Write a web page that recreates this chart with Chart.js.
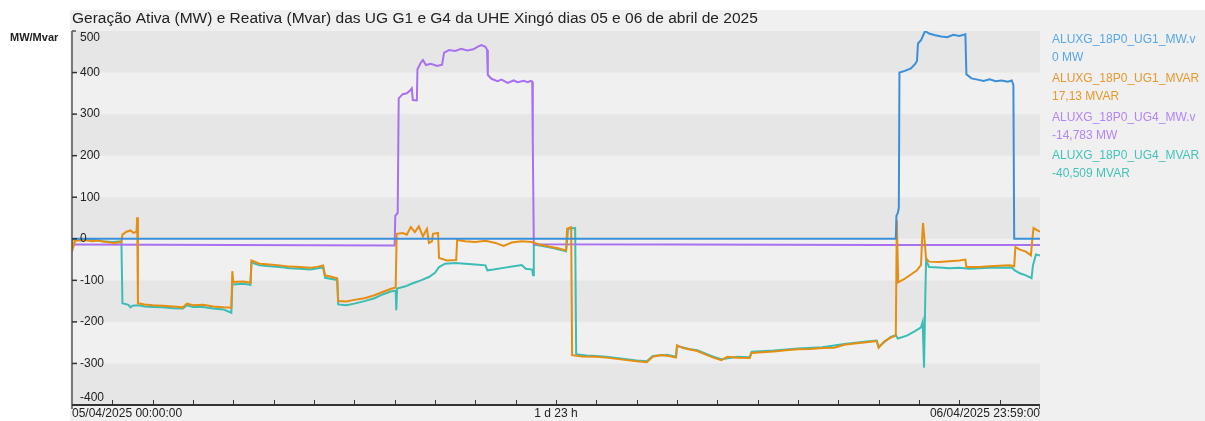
<!DOCTYPE html>
<html>
<head>
<meta charset="utf-8">
<script src="https://cdn.jsdelivr.net/npm/chart.js@4.4.1/dist/chart.umd.min.js"></script>
<style>
  body { margin: 0; background: #fff; }
  canvas { display: block; }
</style>
</head>
<body>
<canvas id="ugChart" width="1205" height="421"></canvas>
<script>
const chartTitle = 'Geração Ativa (MW) e Reativa (Mvar) das UG G1 e G4 da UHE Xingó dias 05 e 06 de abril de 2025';
const yUnit = 'MW/Mvar';
const yTicks = [500, 400, 300, 200, 100, 0, -100, -200, -300, -400];
const xLabelHours = [0, 24, 48];
const xLabels = ['05/04/2025 00:00:00', '1 d 23 h', '06/04/2025 23:59:00'];
const seriesNames = ['ALUXG_18P0_UG1_MW.v', 'ALUXG_18P0_UG1_MVAR', 'ALUXG_18P0_UG4_MW.v', 'ALUXG_18P0_UG4_MVAR'];
const lastValues = ['0 MW', '17,13 MVAR', '-14,783 MW', '-40,509 MVAR'];

// [hour, value] since 05/04 00:00
const ug1Mw = [
  [0, 0], [40.85, 0], [40.88, 55], [40.95, 62], [41.0, 75], [41.03, 400], [41.3, 404], [41.6, 410],
  [41.8, 420], [41.9, 428], [41.95, 470], [42.1, 478], [42.3, 500], [42.5, 494], [42.8, 490], [43.1, 487],
  [43.4, 485], [43.7, 491], [44.0, 488], [44.3, 492], [44.35, 396], [44.6, 386], [44.9, 383], [45.2, 380],
  [45.5, 384], [45.8, 379], [46.1, 381], [46.4, 378], [46.6, 381], [46.68, 370], [46.72, 0], [48, 0]
];
const ug1Mvar = [
  [0, -2], [0.05, -22], [0.15, -5], [0.6, -3], [1.0, -6], [1.3, -4], [1.7, -8], [2.1, -10], [2.45, -8],
  [2.5, 10], [2.7, 17], [2.9, 20], [3.05, 14], [3.2, 17], [3.23, 52], [3.27, -155], [3.6, -158], [4.0, -160],
  [4.5, -161], [5.0, -163], [5.5, -165], [5.7, -156], [6.0, -160], [6.5, -159], [7.0, -163], [7.5, -165], [7.9, -166],
  [7.95, -78], [8.0, -104], [8.5, -103], [8.85, -106],
  [8.9, -52], [9.3, -60], [9.8, -62], [10.3, -64], [10.8, -67], [11.3, -68], [11.8, -70], [12.2, -67], [12.45, -64],
  [12.55, -88], [12.9, -92], [13.15, -95],
  [13.2, -150], [13.6, -151], [14.0, -147], [14.5, -143], [15.0, -136], [15.4, -128], [15.8, -121], [16.05, -117],
  [16.1, 12], [16.4, 14], [16.6, 10], [16.8, 28], [17.0, 16], [17.2, 30], [17.4, 6], [17.6, 24], [17.7, -10],
  [17.85, -6], [17.9, 12], [18.15, 14],
  [18.2, -46], [18.6, -52], [19.05, -51],
  [19.1, -3], [19.5, -6], [20.0, -8], [20.5, -5], [21.0, -10], [21.4, -17], [21.8, -9], [22.3, -6], [22.8, -8],
  [23.2, -14], [23.7, -19], [24.1, -23], [24.5, -28],
  [24.55, 24], [24.75, 28], [24.8, -280],
  [25.3, -283], [26.0, -284], [26.5, -286], [27.0, -289], [27.5, -292], [28.0, -295], [28.5, -297], [28.8, -284],
  [29.2, -280], [29.6, -282], [29.95, -286],
  [30.0, -256], [30.3, -263], [30.7, -267], [31.0, -270], [31.4, -278], [31.8, -286], [32.2, -292], [32.5, -284],
  [33.0, -286], [33.6, -287],
  [33.7, -275], [34.2, -273], [34.8, -271], [35.4, -268], [36.0, -266], [36.6, -265], [37.2, -263], [37.8, -262],
  [38.3, -255], [38.8, -252], [39.4, -249], [39.9, -246], [40.0, -262], [40.3, -246], [40.6, -238], [40.85, -233],
  [40.9, 44], [40.97, -105], [41.3, -96], [41.6, -86], [41.9, -76], [42.1, -63], [42.15, -4], [42.2, 38],
  [42.28, -6], [42.35, -47], [42.5, -55], [43.0, -56], [43.5, -54], [44.0, -52], [44.3, -50],
  [44.35, -68], [45.0, -68], [45.5, -66], [46.0, -65], [46.5, -64], [46.72, -66],
  [46.78, -20], [47.0, -26], [47.3, -31], [47.55, -40], [47.62, 0], [47.68, 26], [47.85, 21], [48, 17.13]
];
const ug4Mw = [
  [0, -14], [8, -15], [16.0, -16], [16.03, 55], [16.15, 62], [16.2, 338], [16.4, 348], [16.6, 350],
  [16.75, 356], [16.85, 362], [16.9, 334], [17.1, 333], [17.13, 408], [17.3, 424], [17.4, 430], [17.55, 418],
  [17.8, 421], [18.1, 416], [18.35, 419], [18.45, 448], [18.7, 454], [19.0, 452], [19.3, 457], [19.6, 453],
  [19.9, 456], [20.1, 462], [20.3, 466], [20.5, 462], [20.58, 455], [20.62, 394], [20.8, 385], [21.1, 379],
  [21.3, 383], [21.6, 375], [21.9, 381], [22.1, 377], [22.4, 380], [22.6, 377], [22.75, 380], [22.82, 378],
  [22.85, 225], [22.9, -13], [30, -14], [40, -15], [48, -14.783]
];
const ug4Mvar = [
  [0, -2], [0.5, -4], [1.0, -2], [1.5, -6], [2.0, -8], [2.45, -6], [2.5, -155], [2.8, -159], [2.9, -165],
  [3.0, -161], [3.3, -160], [3.6, -163], [4.0, -164], [4.5, -165], [5.0, -167], [5.5, -168], [5.7, -160],
  [6.0, -164], [6.5, -164], [7.0, -168], [7.5, -170], [7.9, -178],
  [7.95, -110], [8.5, -108], [8.85, -111],
  [8.9, -57], [9.3, -64], [9.8, -66], [10.3, -68], [10.8, -71], [11.3, -72], [11.8, -74], [12.2, -71], [12.45, -69],
  [12.55, -94], [13.15, -99],
  [13.2, -158], [13.6, -160], [14.0, -156], [14.5, -150], [15.0, -143], [15.4, -134], [15.8, -127], [16.05, -125],
  [16.08, -172], [16.12, -120], [16.5, -115], [16.9, -107], [17.3, -100], [17.7, -92], [18.0, -82], [18.2, -68],
  [18.5, -60], [19.0, -58], [19.5, -60], [20.0, -62], [20.5, -64], [20.6, -76], [20.9, -74], [21.4, -70],
  [21.9, -66], [22.3, -63], [22.5, -72], [22.82, -74], [22.86, -88],
  [22.9, -14], [23.4, -18], [23.9, -23], [24.5, -30], [24.6, 24], [24.95, 26], [25.0, -278],
  [25.5, -281], [26.0, -282], [26.5, -284], [27.0, -287], [27.5, -290], [28.0, -293], [28.5, -295], [28.8, -282],
  [29.5, -279], [29.95, -284],
  [30.0, -258], [30.6, -265], [31.0, -268], [31.8, -284], [32.2, -290], [33.0, -284], [33.6, -285], [33.7, -272],
  [34.8, -269], [36.0, -264], [37.2, -261], [38.3, -253], [39.4, -247], [39.9, -245], [40.0, -260], [40.6, -236],
  [40.85, -232],
  [40.95, -240], [41.4, -233], [41.8, -222], [42.1, -213], [42.18, -200], [42.25, -310], [42.3, -172], [42.35, -52],
  [42.5, -68], [43.0, -69], [43.5, -71], [44.0, -70], [44.5, -72], [45.0, -71], [45.5, -70], [46.0, -70],
  [46.6, -69], [46.75, -76], [47.0, -83], [47.3, -88], [47.58, -95], [47.65, -64], [47.8, -38], [48, -40.509]
];

const lineColors = ['#3b8fd9', '#e58e12', '#a970f2', '#3bbdb5'];
const textColors = ['#58a6e6', '#e8982e', '#b584f6', '#45c3ba'];
const FONT = '"Liberation Sans", Arial, sans-serif';

const toXY = arr => arr.map(p => ({ x: p[0], y: p[1] }));

const decor = {
  id: 'decor',
  beforeDraw(chart) {
    const c = chart.ctx, y = chart.scales.y, a = chart.chartArea;
    c.save();
    c.fillStyle = '#ffffff';
    c.fillRect(0, 0, chart.width, chart.height);
    c.fillStyle = '#f0f0f0';
    c.fillRect(70, 10, chart.width - 70, chart.height - 10);
    // alternating bands
    for (let v = -400; v < 500; v += 100) {
      const top = y.getPixelForValue(v + 100), bot = y.getPixelForValue(v);
      c.fillStyle = (v / 100) % 2 === 0 ? '#e6e6e6' : '#f0f0f0';
      c.fillRect(a.left, top, a.right - a.left, bot - top);
    }
    c.restore();
  },
  afterDraw(chart) {
    const c = chart.ctx, x = chart.scales.x, y = chart.scales.y, a = chart.chartArea;
    c.save();
    // title
    c.fillStyle = '#222';
    c.font = '15.5px ' + FONT;
    c.textBaseline = 'middle';
    c.textAlign = 'left';
    c.fillText(chartTitle, a.left, 19);
    c.font = 'bold 11px ' + FONT;
    c.fillText(yUnit, 10, 38);

    // y axis
    c.strokeStyle = '#555';
    c.lineWidth = 1.5;
    c.beginPath();
    c.moveTo(a.left, a.top); c.lineTo(a.left + 4, a.top);
    c.moveTo(a.left, a.top); c.lineTo(a.left, a.bottom + 4);
    c.stroke();
    c.strokeStyle = '#333';
    c.font = '12px ' + FONT;
    yTicks.forEach(v => {
      const py = y.getPixelForValue(v);
      if (v > -400 && v < 500) {
        c.beginPath(); c.moveTo(a.left, py); c.lineTo(a.left + 5, py); c.stroke();
      }
      const ly = Math.min(Math.max(py, a.top + 7), a.bottom - 7);
      c.fillStyle = '#222';
      c.fillText(String(v), a.left + 8, ly);
    });

    // x axis
    c.strokeStyle = '#333';
    c.lineWidth = 2;
    c.beginPath(); c.moveTo(a.left, a.bottom); c.lineTo(a.right, a.bottom); c.stroke();
    c.lineWidth = 1;
    c.strokeStyle = '#555';
    c.beginPath(); c.moveTo(a.right - 0.5, a.bottom); c.lineTo(a.right - 0.5, a.bottom + 4); c.stroke();
    c.strokeStyle = '#333';
    for (let h = 2; h < 48; h += 2) {
      const px = Math.round(x.getPixelForValue(h)) + 0.5;
      c.beginPath(); c.moveTo(px, a.bottom); c.lineTo(px, a.bottom - 5); c.stroke();
    }
    c.fillStyle = '#222';
    xLabelHours.forEach((h, i) => {
      c.textAlign = i === 0 ? 'left' : (i === xLabelHours.length - 1 ? 'right' : 'center');
      c.fillText(xLabels[i], x.getPixelForValue(h), 414);
    });

    // legend
    c.textAlign = 'left';
    seriesNames.forEach((n, i) => {
      c.fillStyle = textColors[i];
      c.fillText(n, 1052, 40 + i * 38.7);
      c.fillText(lastValues[i], 1052, 58 + i * 38.7);
    });
    c.restore();
  }
};

const ctx = document.getElementById('ugChart').getContext('2d');
const ugChart = new Chart(ctx, {
  type: 'line',
  data: {
    datasets: [ug1Mw, ug1Mvar, ug4Mw, ug4Mvar].map((d, i) => ({
      label: seriesNames[i],
      data: toXY(d),
      borderColor: lineColors[i],
      borderWidth: 2,
      pointRadius: 0,
      tension: 0,
      fill: false
    }))
  },
  options: {
    responsive: false,
    animation: false,
    layout: { padding: { left: 72, top: 31, right: 165, bottom: 16 } },
    scales: {
      x: { type: 'linear', min: 0, max: 48, display: false },
      y: { min: -400, max: 500, display: false }
    },
    plugins: { legend: { display: false }, tooltip: { enabled: false }, title: { display: false } }
  },
  plugins: [decor]
});
</script>
</body>
</html>
